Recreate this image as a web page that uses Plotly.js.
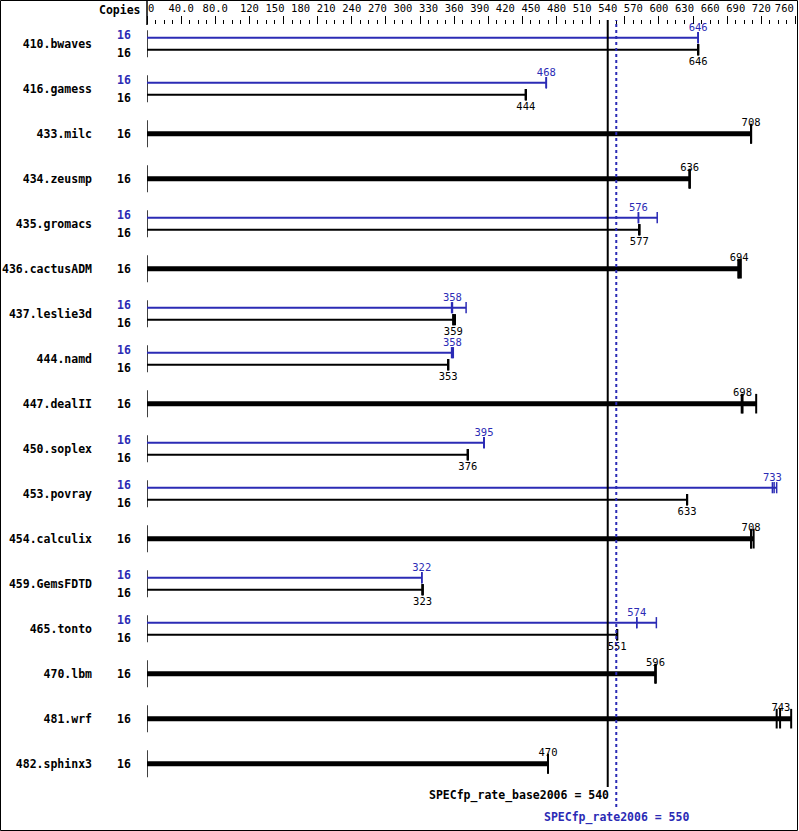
<!DOCTYPE html>
<html>
<head>
<meta charset="utf-8">
<script src="https://cdn.plot.ly/plotly-3.0.1.min.js"></script>
<style>html,body{margin:0;padding:0;background:#fff;}#chart{width:799px;height:831px;}</style>
</head>
<body>
<div id="chart"></div>
<script>
// ---- data ----
const names = ['410.bwaves','416.gamess','433.milc','434.zeusmp','435.gromacs','436.cactusADM','437.leslie3d','444.namd','447.dealII','450.soplex','453.povray','454.calculix','459.GemsFDTD','465.tonto','470.lbm','481.wrf','482.sphinx3'];
const copiesBase = [16,16,16,16,16,16,16,16,16,16,16,16,16,16,16,16,16];
const copiesPeak = [16,16,null,null,16,null,16,16,null,16,16,null,16,16,null,null,null];
const baseMedian = [646,444,708,636,577,694,359,353,698,376,633,708,323,551,596,743,470];
const peakMedian = [646,468,null,null,576,null,358,358,null,395,733,null,322,574,null,null,null];
const baseRuns = [[646,646,646],[444,444,444],[708,708,708],[636,636,636],[577,577,577],[693,694,696],[359,359,361],[353,353,353],[697,698,714],[376,376,376],[633,633,633],[708,708,711],[323,323,323],[551,551,551],[596,596,596],[738,742,755],[470,470,470]];
const peakRuns = [[646,646,646],[468,468,468],null,null,[576,576,598],null,[357,358,374],[357,358,359],null,[395,395,395],[733,735,738],null,[322,322,322],[574,574,597],null,null,null];
const baseScore = 540;
const peakScore = 550;
const baseScoreLabel = 'SPECfp_rate_base2006 = 540';
const peakScoreLabel = 'SPECfp_rate2006 = 550';
const tickLabels = ['0','40.0','80.0','120','150','180','210','240','270','300','330','360','390','420','450','480','510','540','570','600','630','660','690','720','760'];
const tickLabelPos = [5,40,80,120,150,180,210,240,270,300,330,360,390,420,450,480,510,540,570,600,630,660,690,720,747];

// ---- style ----
const BLUE = '#2b2bb5';
const MONO = 'DejaVu Sans Mono';
const off = 6/45;
const XMAX = 763;

const axisX=[], axisY=[];
const pLx=[], pLy=[], bLx=[], bLy=[], tLx=[], tLy=[];
const pMx=[], pMy=[], bMx=[], bMy=[], tMx=[], tMy=[];
const pTx=[], pTy=[], pTt=[], bTx=[], bTy=[], bTt=[];
const annotations = [];

names.forEach((n,i)=>{
  axisX.push(0,0,null); axisY.push(i-0.3,i+0.3,null);
  const hasPeak = peakRuns[i] !== null;
  if (hasPeak) {
    const pm = Math.max(...peakRuns[i]);
    pLx.push(0,pm,null); pLy.push(i-off,i-off,null);
    peakRuns[i].forEach(v=>{pMx.push(v); pMy.push(i-off);});
    pTx.push(peakMedian[i]); pTy.push(i-off-0.21); pTt.push(String(peakMedian[i]));
    const bm = Math.max(...baseRuns[i]);
    bLx.push(0,bm,null); bLy.push(i+off,i+off,null);
    baseRuns[i].forEach(v=>{bMx.push(v); bMy.push(i+off);});
    bTx.push(baseMedian[i]); bTy.push(i+off+0.28); bTt.push(String(baseMedian[i]));
    annotations.push({xref:'paper',yref:'y',x:(124-147)/651,y:i-0.195,text:String(copiesPeak[i]),showarrow:false,xanchor:'center',yanchor:'middle',font:{family:MONO,size:11.5,color:BLUE,weight:'bold'}});
    annotations.push({xref:'paper',yref:'y',x:(124-147)/651,y:i+0.205,text:String(copiesBase[i]),showarrow:false,xanchor:'center',yanchor:'middle',font:{family:MONO,size:11.5,color:'#000',weight:'bold'}});
  } else {
    const bm = Math.max(...baseRuns[i]);
    tLx.push(0,bm,null); tLy.push(i,i,null);
    baseRuns[i].forEach(v=>{tMx.push(v); tMy.push(i);});
    bTx.push(baseMedian[i]); bTy.push(i-0.24); bTt.push(String(baseMedian[i]));
    annotations.push({xref:'paper',yref:'y',x:(124-147)/651,y:i,text:String(copiesBase[i]),showarrow:false,xanchor:'center',yanchor:'middle',font:{family:MONO,size:11.5,color:'#000',weight:'bold'}});
  }
});

annotations.push({xref:'paper',yref:'paper',x:(143-147)/651,y:(831-10)/806,text:'Copies',showarrow:false,xanchor:'right',yanchor:'middle',font:{family:MONO,size:11.5,color:'#000',weight:'bold'}});
annotations.push({xref:'x',yref:'paper',x:baseScore,xshift:3,y:(831-795)/806,text:baseScoreLabel,showarrow:false,xanchor:'right',yanchor:'middle',font:{family:MONO,size:11.5,color:'#000',weight:'bold'}});
annotations.push({xref:'x',yref:'paper',x:peakScore,y:(831-817)/806,text:peakScoreLabel,showarrow:false,xanchor:'center',yanchor:'middle',font:{family:MONO,size:11.5,color:BLUE,weight:'bold'}});

const common = {hoverinfo:'skip', showlegend:false, cliponaxis:false};
const traces = [
  Object.assign({x:axisX,y:axisY,mode:'lines',line:{color:'#000',width:1.5}},common),
  Object.assign({x:pLx,y:pLy,mode:'lines',line:{color:BLUE,width:2}},common),
  Object.assign({x:bLx,y:bLy,mode:'lines',line:{color:'#000',width:2}},common),
  Object.assign({x:tLx,y:tLy,mode:'lines',line:{color:'#000',width:5}},common),
  Object.assign({x:pMx,y:pMy,mode:'markers',marker:{symbol:'line-ns',size:8,line:{color:BLUE,width:1.5}}},common),
  Object.assign({x:bMx,y:bMy,mode:'markers',marker:{symbol:'line-ns',size:8,line:{color:'#000',width:2}}},common),
  Object.assign({x:tMx,y:tMy,mode:'markers',marker:{symbol:'line-ns',size:14,line:{color:'#000',width:2}}},common),
  Object.assign({x:pTx,y:pTy,mode:'text',text:pTt,textposition:'middle center',textfont:{family:MONO,size:10.5,color:BLUE},xaxis:'x2'},common),
  Object.assign({x:bTx,y:bTy,mode:'text',text:bTt,textposition:'middle center',textfont:{family:MONO,size:10.5,color:'#000'},xaxis:'x2'},common)
];

const pyTop = 1 + 5/806;
const shapes = [
  {type:'line',xref:'x',yref:'paper',x0:baseScore,x1:baseScore,y0:(831-787)/806,y1:pyTop,line:{color:'#000',width:2}},
  {type:'line',xref:'x',yref:'paper',x0:peakScore,x1:peakScore,y0:(831-807)/806,y1:pyTop,line:{color:BLUE,width:2,dash:'dot'}},
  {type:'line',xref:'paper',yref:'paper',x0:0,x1:0,y0:1,y1:831/806,line:{color:'#000',width:1.5}},
  {type:'rect',xref:'paper',yref:'paper',x0:-147/651+0.5/651,x1:1-0.5/651,y0:0.5/806,y1:831/806-0.5/806,line:{color:'#000',width:1}}
];

const layout = {
  width:799, height:831,
  margin:{l:147,r:1,t:25,b:0,pad:0},
  paper_bgcolor:'#fff', plot_bgcolor:'#fff',
  showlegend:false,
  xaxis:{range:[0,XMAX],side:'top',showgrid:false,zeroline:false,showline:false,
    tickmode:'linear',tick0:0,dtick:40,ticks:'outside',ticklen:8,tickwidth:1,tickcolor:'#000',showticklabels:false,
    minor:{dtick:10,tick0:0,ticks:'outside',ticklen:4,tickwidth:1,tickcolor:'#000',showgrid:false}},
  xaxis2:{overlaying:'x',matches:'x',side:'top',showgrid:false,zeroline:false,showline:false,
    tickmode:'array',tickvals:tickLabelPos,ticktext:tickLabels,ticks:'',ticklabelstandoff:10,
    tickfont:{family:MONO,size:10.5,color:'#000'}},
  yaxis:{range:[17.496,-0.4156],showgrid:false,zeroline:false,showline:false,
    tickmode:'array',tickvals:names.map((_,i)=>i),ticktext:names,ticks:'',ticklabelstandoff:54,
    tickfont:{family:MONO,size:11.5,color:'#000',weight:'bold'}},
  shapes:shapes,
  annotations:annotations
};

Plotly.newPlot('chart', traces, layout, {staticPlot:true, displayModeBar:false});
</script>
</body>
</html>
